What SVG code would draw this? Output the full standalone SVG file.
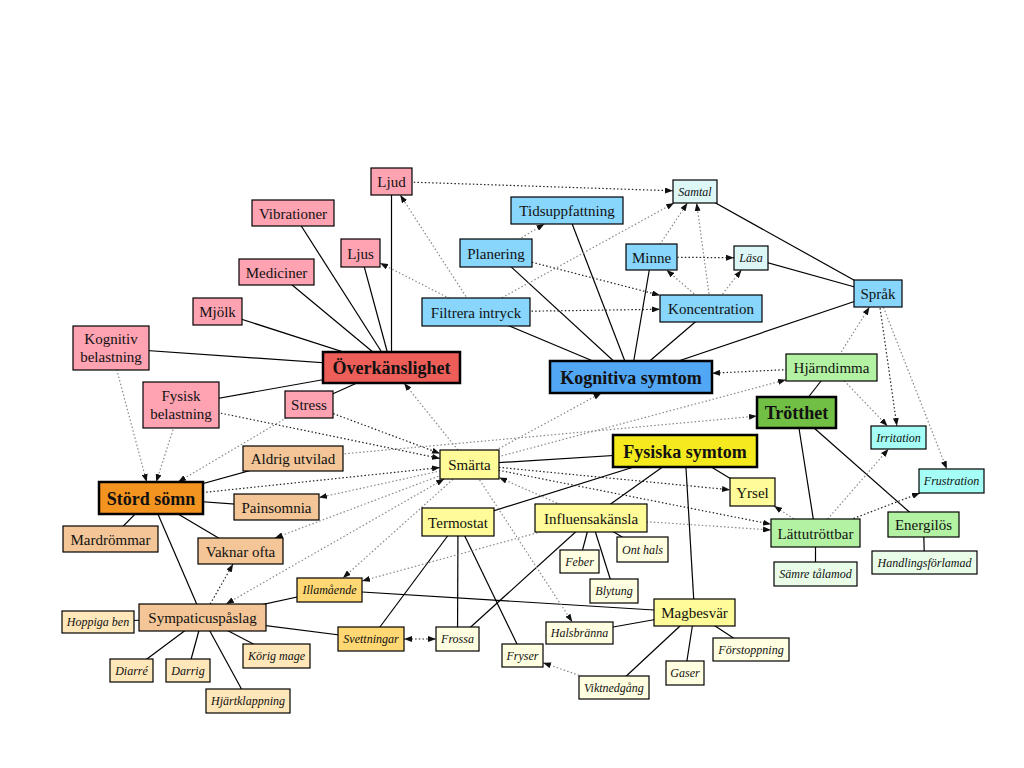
<svg xmlns="http://www.w3.org/2000/svg" width="1024" height="768" viewBox="0 0 1024 768">
<style>
text{font-family:"Liberation Serif","Times New Roman",serif;text-anchor:middle;fill:#111}
.n{font-size:15px}
.b{font-size:18px;font-weight:bold}
.i{font-size:12px;font-style:italic}
rect{stroke:#000;stroke-width:1.2}
rect.m{stroke-width:2.5}
.s{stroke:#000;stroke-width:1.2;fill:none}
.dk{stroke:#222;stroke-width:1.2;stroke-dasharray:1.5 2.2;fill:none}
.gy{stroke:#888;stroke-width:1.2;stroke-dasharray:1.5 2.2;fill:none}
.pink{fill:#FFA3B2}.red{fill:#EE5E58}
.blue{fill:#88D6FC}.kblue{fill:#52A7F4}.pcyan{fill:#DDF7F7}.cyan{fill:#A6FFF6}
.lg{fill:#B3F2A3}.dg{fill:#71BF44}.pg{fill:#E8FCE8}
.ym{fill:#F4EA1E}.y{fill:#FFFB98}.py{fill:#FFFEE0}
.or{fill:#F39320}.pe{fill:#F3C597}.ppe{fill:#FFE7BA}.go{fill:#FFD873}
</style>
<defs>
<marker id="a" viewBox="0 0 8 6" refX="8" refY="3" markerWidth="8" markerHeight="6" markerUnits="userSpaceOnUse" orient="auto-start-reverse">
<path d="M0,0 L8,3 L0,6 z" fill="#111"/>
</marker>
</defs>
<rect width="1024" height="768" fill="#fff" style="stroke:none"/>
<g id="connectors">
<!-- solid -->
<line class="s" x1="391.5" y1="181.5" x2="391.5" y2="367.5"/>
<line class="s" x1="360.5" y1="253" x2="391.5" y2="367.5"/>
<line class="s" x1="293" y1="213" x2="391.5" y2="367.5"/>
<line class="s" x1="276.5" y1="272" x2="391.5" y2="367.5"/>
<line class="s" x1="217.5" y1="311.5" x2="391.5" y2="367.5"/>
<line class="s" x1="111" y1="348" x2="391.5" y2="367.5"/>
<line class="s" x1="181" y1="405" x2="391.5" y2="367.5"/>
<line class="s" x1="309" y1="404.5" x2="391.5" y2="367.5"/>
<line class="s" x1="476" y1="312" x2="631" y2="377"/>
<line class="s" x1="496" y1="253" x2="631" y2="377"/>
<line class="s" x1="567" y1="210.5" x2="631" y2="377"/>
<line class="s" x1="651.5" y1="257" x2="631" y2="377"/>
<line class="s" x1="711" y1="308.5" x2="631" y2="377"/>
<line class="s" x1="878" y1="293.5" x2="631" y2="377"/>
<line class="s" x1="695" y1="191.5" x2="878" y2="293.5"/>
<line class="s" x1="751" y1="258" x2="878" y2="293.5"/>
<line class="s" x1="796.5" y1="412.5" x2="831.5" y2="367.5"/>
<line class="s" x1="796.5" y1="412.5" x2="815.5" y2="533"/>
<line class="s" x1="796.5" y1="412.5" x2="923.5" y2="524.5"/>
<line class="s" x1="815.5" y1="533" x2="815.5" y2="574"/>
<line class="s" x1="923.5" y1="524.5" x2="924.5" y2="562.5"/>
<line class="s" x1="685" y1="451" x2="469.5" y2="464.5"/>
<line class="s" x1="685" y1="451" x2="458" y2="522"/>
<line class="s" x1="685" y1="451" x2="591" y2="518"/>
<line class="s" x1="685" y1="451" x2="694.5" y2="612.5"/>
<line class="s" x1="685" y1="451" x2="752.5" y2="492"/>
<line class="s" x1="458" y1="522" x2="371" y2="639"/>
<line class="s" x1="458" y1="522" x2="457.5" y2="639"/>
<line class="s" x1="458" y1="522" x2="522.5" y2="655.5"/>
<line class="s" x1="591" y1="518" x2="579.5" y2="561.5"/>
<line class="s" x1="591" y1="518" x2="614" y2="591"/>
<line class="s" x1="591" y1="518" x2="642.5" y2="549.5"/>
<line class="s" x1="591" y1="518" x2="457.5" y2="639"/>
<line class="s" x1="694.5" y1="612.5" x2="329.5" y2="590"/>
<line class="s" x1="694.5" y1="612.5" x2="579.5" y2="633"/>
<line class="s" x1="694.5" y1="612.5" x2="614" y2="687.5"/>
<line class="s" x1="694.5" y1="612.5" x2="685" y2="673"/>
<line class="s" x1="694.5" y1="612.5" x2="751" y2="649.5"/>
<line class="s" x1="151" y1="498" x2="293" y2="458.5"/>
<line class="s" x1="151" y1="498" x2="276.5" y2="507"/>
<line class="s" x1="151" y1="498" x2="110.5" y2="539"/>
<line class="s" x1="151" y1="498" x2="240.5" y2="551"/>
<line class="s" x1="151" y1="498" x2="202.5" y2="617.5"/>
<line class="s" x1="202.5" y1="617.5" x2="98" y2="622"/>
<line class="s" x1="202.5" y1="617.5" x2="131.5" y2="670.5"/>
<line class="s" x1="202.5" y1="617.5" x2="188" y2="670.5"/>
<line class="s" x1="202.5" y1="617.5" x2="248" y2="701"/>
<line class="s" x1="202.5" y1="617.5" x2="276.5" y2="656"/>
<line class="s" x1="202.5" y1="617.5" x2="329.5" y2="590"/>
<line class="s" x1="202.5" y1="617.5" x2="371" y2="639"/>
<!-- dotted -->
<line class="dk" marker-end="url(#a)" x1="391.5" y1="181.5" x2="673" y2="190.8"/>
<line class="gy" marker-end="url(#a)" x1="476" y1="312" x2="674.1" y2="203"/>
<line class="gy" marker-end="url(#a)" x1="651.5" y1="257" x2="687.4" y2="203"/>
<line class="gy" marker-end="url(#a)" x1="711" y1="308.5" x2="696.6" y2="203"/>
<line class="dk" marker-end="url(#a)" x1="651.5" y1="257" x2="734" y2="257.8"/>
<line class="gy" marker-end="url(#a)" x1="711" y1="308.5" x2="666.5" y2="270"/>
<line class="gy" marker-end="url(#a)" x1="711" y1="308.5" x2="741.5" y2="270"/>
<line class="dk" marker-end="url(#a)" x1="496" y1="253" x2="660" y2="295.3"/>
<line class="dk" marker-end="url(#a)" x1="476" y1="312" x2="660" y2="309.3"/>
<line class="gy" marker-end="url(#a)" x1="496" y1="253" x2="544.4" y2="224"/>
<line class="gy" marker-end="url(#a)" x1="476" y1="312" x2="400.2" y2="195"/>
<line class="gy" marker-end="url(#a)" x1="476" y1="312" x2="380" y2="263"/>
<line class="dk" marker-end="url(#a)" x1="831.5" y1="367.5" x2="712" y2="373.2"/>
<line class="gy" marker-end="url(#a)" x1="831.5" y1="367.5" x2="869.5" y2="307"/>
<line class="gy" marker-end="url(#a)" x1="831.5" y1="367.5" x2="887.5" y2="426"/>
<line class="dk" marker-end="url(#a)" x1="878" y1="293.5" x2="896.9" y2="426"/>
<line class="gy" marker-end="url(#a)" x1="878" y1="293.5" x2="946.8" y2="469"/>
<line class="gy" marker-end="url(#a)" x1="815.5" y1="533" x2="888.5" y2="449"/>
<line class="dk" marker-end="url(#a)" x1="815.5" y1="533" x2="920.1" y2="493"/>
<line class="gy" marker-end="url(#a)" x1="815.5" y1="533" x2="774" y2="506"/>
<line class="dk" marker-end="url(#a)" x1="469.5" y1="464.5" x2="730" y2="489.8"/>
<line class="dk" marker-end="url(#a)" x1="469.5" y1="464.5" x2="771" y2="524.2"/>
<line class="gy" marker-end="url(#a)" x1="591" y1="518" x2="771" y2="530"/>
<line class="gy" marker-end="url(#a)" x1="469.5" y1="464.5" x2="786" y2="379.7"/>
<line class="gy" marker-end="url(#a)" x1="469.5" y1="464.5" x2="601.5" y2="393"/>
<line class="gy" marker-end="url(#a)" x1="293" y1="458.5" x2="757" y2="416.1"/>
<line class="gy" marker-end="url(#a)" x1="469.5" y1="464.5" x2="404" y2="383"/>
<line class="dk" marker-end="url(#a)" x1="309" y1="404.5" x2="440" y2="453.5"/>
<line class="dk" marker-end="url(#a)" x1="181" y1="405" x2="440" y2="458.4"/>
<line class="dk" marker-end="url(#a)" x1="151" y1="498" x2="440" y2="467.6"/>
<line class="gy" marker-end="url(#a)" x1="469.5" y1="464.5" x2="319" y2="497.6"/>
<line class="gy" marker-end="url(#a)" x1="469.5" y1="464.5" x2="274.9" y2="538"/>
<line class="gy" marker-start="url(#a)" marker-end="url(#a)" x1="444.2" y1="479" x2="226" y2="604"/>
<line class="gy" marker-end="url(#a)" x1="469.5" y1="464.5" x2="342.9" y2="578"/>
<line class="gy" marker-end="url(#a)" x1="591" y1="518" x2="362" y2="581"/>
<line class="gy" marker-end="url(#a)" x1="591" y1="518" x2="499" y2="477.5"/>
<line class="gy" marker-end="url(#a)" x1="469.5" y1="464.5" x2="572.3" y2="622"/>
<line class="gy" marker-end="url(#a)" x1="614" y1="687.5" x2="543" y2="662.7"/>
<line class="dk" marker-start="url(#a)" marker-end="url(#a)" x1="404" y1="639" x2="436" y2="639"/>
<line class="dk" marker-end="url(#a)" x1="210.2" y1="604" x2="233.1" y2="564"/>
<line class="gy" marker-end="url(#a)" x1="111" y1="348" x2="146.7" y2="482"/>
<line class="gy" marker-end="url(#a)" x1="181" y1="405" x2="156.2" y2="482"/>
<line class="gy" marker-end="url(#a)" x1="309" y1="404.5" x2="178" y2="482"/>
</g>
<g id="n-ljud"><rect class="pink" x="371" y="168" width="41" height="27"/><text class="n" x="391.5" y="187">Ljud</text></g>
<g id="n-vibrationer"><rect class="pink" x="252" y="200" width="82" height="26"/><text class="n" x="293" y="218.5">Vibrationer</text></g>
<g id="n-ljus"><rect class="pink" x="341" y="239" width="39" height="28"/><text class="n" x="360.5" y="258.5">Ljus</text></g>
<g id="n-mediciner"><rect class="pink" x="239" y="259" width="75" height="26"/><text class="n" x="276.5" y="277.5">Mediciner</text></g>
<g id="n-mjolk"><rect class="pink" x="193" y="298" width="49" height="27"/><text class="n" x="217.5" y="317">Mjölk</text></g>
<g id="n-kognitivbelastning"><rect class="pink" x="73" y="326" width="76" height="44"/><text class="n" x="111" y="344">Kognitiv</text><text class="n" x="111" y="362">belastning</text></g>
<g id="n-fysiskbelastning"><rect class="pink" x="143" y="382" width="76" height="46"/><text class="n" x="181" y="401">Fysisk</text><text class="n" x="181" y="419">belastning</text></g>
<g id="n-stress"><rect class="pink" x="285" y="391" width="48" height="27"/><text class="n" x="309" y="410">Stress</text></g>
<g id="n-overkanslighet"><rect class="red m" x="323" y="352" width="137" height="31"/><text class="b" x="391.5" y="374">Överkänslighet</text></g>
<g id="n-tidsuppfattning"><rect class="blue" x="511" y="197" width="112" height="27"/><text class="n" x="567" y="216">Tidsuppfattning</text></g>
<g id="n-planering"><rect class="blue" x="460" y="239" width="72" height="28"/><text class="n" x="496" y="258.5">Planering</text></g>
<g id="n-filtrera"><rect class="blue" x="422" y="298" width="108" height="28"/><text class="n" x="476" y="317.5">Filtrera intryck</text></g>
<g id="n-kognitiva"><rect class="kblue m" x="550" y="361" width="162" height="32"/><text class="b" x="631" y="383.5">Kognitiva symtom</text></g>
<g id="n-samtal"><rect class="pcyan" x="673" y="180" width="44" height="23"/><text class="i" x="695" y="195.5">Samtal</text></g>
<g id="n-minne"><rect class="blue" x="626" y="244" width="51" height="26"/><text class="n" x="651.5" y="262.5">Minne</text></g>
<g id="n-lasa"><rect class="pcyan" x="734" y="246" width="34" height="24"/><text class="i" x="751" y="262">Läsa</text></g>
<g id="n-koncentration"><rect class="blue" x="660" y="295" width="102" height="27"/><text class="n" x="711" y="314">Koncentration</text></g>
<g id="n-sprak"><rect class="blue" x="854" y="280" width="48" height="27"/><text class="n" x="878" y="299">Språk</text></g>
<g id="n-hjarndimma"><rect class="lg" x="786" y="354" width="91" height="27"/><text class="n" x="831.5" y="373">Hjärndimma</text></g>
<g id="n-trotthet"><rect class="dg m" x="757" y="397" width="79" height="31"/><text class="b" x="796.5" y="419">Trötthet</text></g>
<g id="n-irritation"><rect class="cyan" x="871" y="426" width="55" height="23"/><text class="i" x="898.5" y="441.5">Irritation</text></g>
<g id="n-frustration"><rect class="cyan" x="919" y="469" width="65" height="24"/><text class="i" x="951.5" y="485">Frustration</text></g>
<g id="n-lattutrottbar"><rect class="lg" x="771" y="519" width="89" height="28"/><text class="n" x="815.5" y="538.5">Lättutröttbar</text></g>
<g id="n-energilos"><rect class="lg" x="888" y="512" width="71" height="25"/><text class="n" x="923.5" y="530">Energilös</text></g>
<g id="n-samretalamod"><rect class="pg" x="774" y="562" width="83" height="24"/><text class="i" x="815.5" y="578">Sämre tålamod</text></g>
<g id="n-handlingsforlamad"><rect class="pg" x="872" y="551" width="105" height="23"/><text class="i" x="924.5" y="566.5">Handlingsförlamad</text></g>
<g id="n-smarta"><rect class="y" x="440" y="450" width="59" height="29"/><text class="n" x="469.5" y="470">Smärta</text></g>
<g id="n-fysiska"><rect class="ym m" x="613" y="435" width="144" height="32"/><text class="b" x="685" y="457.5">Fysiska symtom</text></g>
<g id="n-yrsel"><rect class="y" x="730" y="478" width="45" height="28"/><text class="n" x="752.5" y="497.5">Yrsel</text></g>
<g id="n-termostat"><rect class="y" x="422" y="508" width="72" height="28"/><text class="n" x="458" y="527.5">Termostat</text></g>
<g id="n-influensa"><rect class="y" x="535" y="504" width="112" height="28"/><text class="n" x="591" y="523.5">Influensakänsla</text></g>
<g id="n-feber"><rect class="py" x="560" y="550" width="39" height="23"/><text class="i" x="579.5" y="565.5">Feber</text></g>
<g id="n-onthals"><rect class="py" x="617" y="537" width="51" height="25"/><text class="i" x="642.5" y="553.5">Ont hals</text></g>
<g id="n-blytung"><rect class="py" x="590" y="579" width="48" height="24"/><text class="i" x="614" y="595">Blytung</text></g>
<g id="n-magbesvar"><rect class="y" x="654" y="599" width="81" height="27"/><text class="n" x="694.5" y="618">Magbesvär</text></g>
<g id="n-halsbranna"><rect class="py" x="546" y="622" width="67" height="22"/><text class="i" x="579.5" y="637">Halsbränna</text></g>
<g id="n-frossa"><rect class="py" x="436" y="627" width="43" height="24"/><text class="i" x="457.5" y="643">Frossa</text></g>
<g id="n-fryser"><rect class="py" x="502" y="644" width="41" height="23"/><text class="i" x="522.5" y="659.5">Fryser</text></g>
<g id="n-viktnedgang"><rect class="py" x="579" y="676" width="70" height="23"/><text class="i" x="614" y="691.5">Viktnedgång</text></g>
<g id="n-gaser"><rect class="py" x="666" y="661" width="38" height="24"/><text class="i" x="685" y="677">Gaser</text></g>
<g id="n-forstoppning"><rect class="py" x="713" y="638" width="76" height="23"/><text class="i" x="751" y="653.5">Förstoppning</text></g>
<g id="n-illamaende"><rect class="go" x="297" y="578" width="65" height="24"/><text class="i" x="329.5" y="594">Illamående</text></g>
<g id="n-sympaticus"><rect class="pe" x="139" y="604" width="127" height="27"/><text class="n" x="202.5" y="623">Sympaticuspåslag</text></g>
<g id="n-hoppigaben"><rect class="ppe" x="62" y="611" width="72" height="22"/><text class="i" x="98" y="626">Hoppiga ben</text></g>
<g id="n-svettningar"><rect class="go" x="338" y="627" width="66" height="24"/><text class="i" x="371" y="643">Svettningar</text></g>
<g id="n-diarre"><rect class="ppe" x="110" y="659" width="43" height="23"/><text class="i" x="131.5" y="674.5">Diarré</text></g>
<g id="n-darrig"><rect class="ppe" x="166" y="659" width="44" height="23"/><text class="i" x="188" y="674.5">Darrig</text></g>
<g id="n-korigmage"><rect class="ppe" x="243" y="644" width="67" height="24"/><text class="i" x="276.5" y="660">Körig mage</text></g>
<g id="n-hjartklappning"><rect class="ppe" x="206" y="689" width="84" height="24"/><text class="i" x="248" y="705">Hjärtklappning</text></g>
<g id="n-stordsomn"><rect class="or m" x="99" y="482" width="104" height="32"/><text class="b" x="151" y="504.5">Störd sömn</text></g>
<g id="n-aldrigutvilad"><rect class="pe" x="243" y="446" width="100" height="25"/><text class="n" x="293" y="464">Aldrig utvilad</text></g>
<g id="n-painsomnia"><rect class="pe" x="234" y="494" width="85" height="26"/><text class="n" x="276.5" y="512.5">Painsomnia</text></g>
<g id="n-mardrommar"><rect class="pe" x="63" y="526" width="95" height="26"/><text class="n" x="110.5" y="544.5">Mardrömmar</text></g>
<g id="n-vaknarofta"><rect class="pe" x="198" y="538" width="85" height="26"/><text class="n" x="240.5" y="556.5">Vaknar ofta</text></g>
</svg>
